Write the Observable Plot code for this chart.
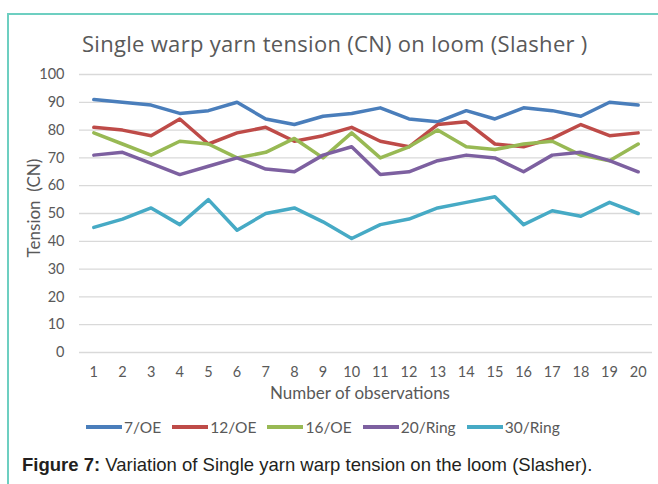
<!DOCTYPE html>
<html><head><meta charset="utf-8">
<script src="https://cdn.jsdelivr.net/npm/d3@7"></script>
<script src="https://cdn.jsdelivr.net/npm/@observablehq/plot@0.6"></script>
<style>
body{margin:0;background:#fff;overflow:hidden;}
#wrap{position:relative;width:658px;height:484px;overflow:hidden;font-family:Lato,sans-serif;background:#fff;}
#frame{position:absolute;left:7px;top:13px;width:700px;height:520px;border-left:2px solid #6dcfc1;border-top:2px solid #6dcfc1;}
#title{position:absolute;left:82px;top:28px;font-size:22px;color:#595959;white-space:nowrap;font-family:"Open Sans",sans-serif;letter-spacing:0.3px;}
#chart{position:absolute;left:0;top:60px;}
#xtitle{position:absolute;left:0;width:720px;text-align:center;top:382px;font-size:17px;color:#595959;}
#ytitle{position:absolute;left:33px;top:208px;transform:translate(-50%,-50%) rotate(-90deg);font-size:17px;color:#595959;white-space:nowrap;}
#legend{position:absolute;left:86px;top:418px;display:flex;gap:11px;font-size:15.5px;color:#595959;align-items:center;}
.item{display:flex;align-items:center;}
.sw{width:36px;height:3.5px;margin-right:2px;}
#caption{position:absolute;left:22px;top:454px;font-family:"Liberation Sans",Arial,sans-serif;font-size:18.5px;color:#231f20;white-space:nowrap;}
</style></head>
<body>
<div id="wrap">
  <div id="frame"></div>
  <div id="title">Single warp yarn tension (CN) on loom (Slasher )</div>
  <div id="chart"></div>
  <div id="ytitle">Tension&nbsp; (CN)</div>
  <div id="xtitle">Number of observations</div>
  <div id="legend"></div>
  <div id="caption"><b>Figure 7:</b> Variation of Single yarn warp tension on the loom (Slasher).</div>
</div>
<script>
const observations = [1,2,3,4,5,6,7,8,9,10,11,12,13,14,15,16,17,18,19,20];
const yTicks = [0,10,20,30,40,50,60,70,80,90,100];
const seriesNames = ["7/OE","12/OE","16/OE","20/Ring","30/Ring"];
const oe7   = [91,90,89,86,87,90,84,82,85,86,88,84,83,87,84,88,87,85,90,89];
const oe12  = [81,80,78,84,75,79,81,76,78,81,76,74,82,83,75,74,77,82,78,79];
const oe16  = [79,75,71,76,75,70,72,77,70,79,70,74,80,74,73,75,76,71,69,75];
const ring20 = [71,72,68,64,67,70,66,65,71,74,64,65,69,71,70,65,71,72,69,65];
const ring30 = [45,48,52,46,55,44,50,52,47,41,46,48,52,54,56,46,51,49,54,50];
const colors = ["#4a7ebb","#be4b48","#98b954","#7d60a0","#46aac5"];

const seriesValues = [oe7, oe12, oe16, ring20, ring30];
const data = [];
seriesNames.forEach((name, i) => {
  observations.forEach((o, j) => data.push({series: name, obs: o, value: seriesValues[i][j]}));
});

const chart = Plot.plot({
  width: 658, height: 350,
  marginLeft: 79, marginRight: 6, marginTop: 14, marginBottom: 58,
  x: {type: "linear", domain: [0.5, 20.5], label: null},
  y: {domain: [0, 100], label: null},
  color: {domain: seriesNames, range: colors},
  style: {fontFamily: "Lato, sans-serif", fontSize: "14.5px", color: "#595959", background: "transparent"},
  marks: [
    Plot.ruleY(yTicks, {stroke: "#d9d9d9", strokeWidth: 1.3}),
    Plot.axisY({ticks: yTicks, tickSize: 0, tickPadding: 15, label: null, fill: "#595959"}),
    Plot.axisX({ticks: observations, tickSize: 0, tickPadding: 14, label: null, tickFormat: d => String(d), fill: "#595959"}),
    Plot.line(data, {x: "obs", y: "value", z: "series", stroke: "series", strokeWidth: 3.5, strokeLinejoin: "round"})
  ]
});
document.getElementById("chart").appendChild(chart);

const legend = document.getElementById("legend");
seriesNames.forEach((name, i) => {
  const it = document.createElement("div");
  it.className = "item";
  it.innerHTML = `<span class="sw" style="background:${colors[i]}"></span><span>${name}</span>`;
  legend.appendChild(it);
});
</script>
</body></html>
